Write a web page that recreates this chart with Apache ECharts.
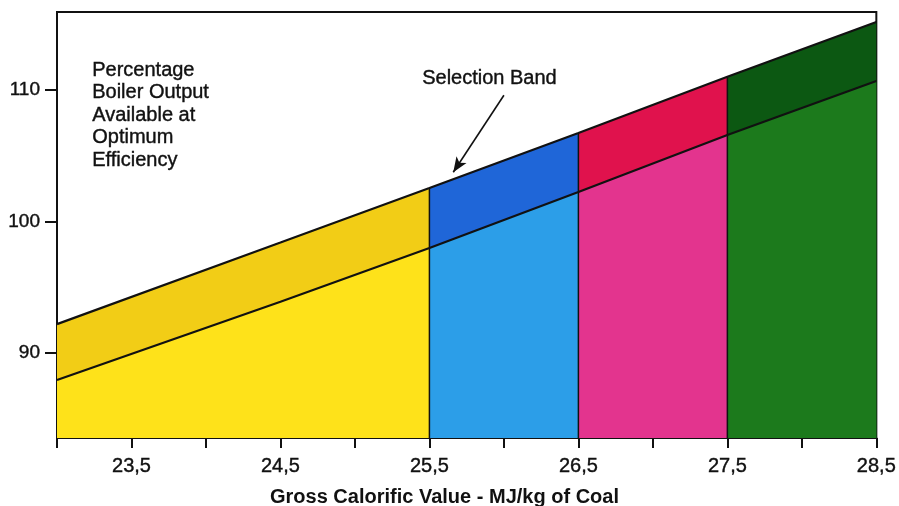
<!DOCTYPE html>
<html>
<head>
<meta charset="utf-8">
<script src="https://cdn.jsdelivr.net/npm/echarts@6.0.0/dist/echarts.min.js"></script>
<style>
  html, body { margin: 0; padding: 0; background: #fff; overflow: hidden; }
  #chart { width: 899px; height: 506px; }
</style>
</head>
<body>
<div id="chart"></div>
<script>
// gross calorific value (MJ/kg) where the band lines are read
var xValues = [23, 24.5, 25.5, 26.5, 27.5, 28.5];
// lower and upper edge of the selection band (% boiler output)
var lowerLine = [87.95, 93.9, 97.98, 102.24, 106.58, 110.68];
var upperLine = [92.2, 98.4, 102.55, 106.73, 111.0, 115.17];
// coal ranges coloured separately
var segments = [[23, 25.5], [25.5, 26.5], [26.5, 27.5], [27.5, 28.5]];
var upperColors = ['#f2cd16', '#1f66d8', '#e0124d', '#0c5812'];
var lowerColors = ['#fee21a', '#2c9ee8', '#e3348e', '#1c7a1c'];
var dividers = [25.5, 26.5, 27.5];
var xTickLabels = [23.5, 24.5, 25.5, 26.5, 27.5, 28.5];
var yTickLabels = [90, 100, 110];

var yMin = 83.54, yMax = 115.93;
var font = 'Liberation Sans, Arial, sans-serif';

function pairs(ys, from, to) {
    var out = [];
    for (var i = 0; i < xValues.length; i++) {
        if (xValues[i] >= from && xValues[i] <= to) out.push([xValues[i], ys[i]]);
    }
    return out;
}
function valueAt(ys, x) {
    return ys[xValues.indexOf(x)];
}

var series = [];
// darker band (between lines) first, then the lighter part below the lower line on top
segments.forEach(function (s, i) {
    series.push({
        type: 'line', data: pairs(upperLine, s[0], s[1]), symbol: 'none', silent: true,
        lineStyle: { width: 0 }, areaStyle: { color: upperColors[i], opacity: 1, origin: 'start' }, z: 1
    });
});
segments.forEach(function (s, i) {
    series.push({
        type: 'line', data: pairs(lowerLine, s[0], s[1]), symbol: 'none', silent: true,
        lineStyle: { width: 0 }, areaStyle: { color: lowerColors[i], opacity: 1, origin: 'start' }, z: 2
    });
});
dividers.forEach(function (x) {
    series.push({
        type: 'line', data: [[x, yMin], [x, valueAt(upperLine, x)]], symbol: 'none', silent: true,
        lineStyle: { color: '#111', width: 1.5 }, z: 3
    });
});
series.push({
    type: 'line', data: pairs(upperLine, 23, 28.5), symbol: 'none', silent: true,
    lineStyle: { color: '#111', width: 2.2 }, z: 4
});
series.push({
    type: 'line', data: pairs(lowerLine, 23, 28.5), symbol: 'none', silent: true,
    lineStyle: { color: '#111', width: 2.2 }, z: 4,
    markLine: {
        silent: true,
        symbol: ['none', 'arrow'],
        symbolSize: [9, 15],
        lineStyle: { color: '#111', width: 1.6, type: 'solid' },
        label: { show: false },
        data: [[{ coord: [26.0, 109.6] }, { coord: [25.66, 103.75] }]]
    }
});

var myChart = echarts.init(document.getElementById('chart'));
var option = {
    animation: false,
    backgroundColor: '#fff',
    grid: { left: 57, right: 15, top: 12, bottom: 68, show: true, borderColor: '#111', borderWidth: 2 },
    xAxis: {
        type: 'value', min: 23, max: 28.5, interval: 0.5,
        axisLine: { lineStyle: { color: '#111', width: 2 } },
        axisTick: { show: true, length: 10, lineStyle: { color: '#111', width: 2 } },
        axisLabel: {
            customValues: xTickLabels, margin: 18, color: '#111', fontSize: 20, fontFamily: font,
            textBorderColor: '#111', textBorderWidth: 0.4,
            formatter: function (v) { return v.toFixed(1).replace('.', ','); }
        },
        splitLine: { show: false }
    },
    yAxis: {
        type: 'value', min: yMin, max: yMax,
        axisLine: { show: true, lineStyle: { color: '#111', width: 2 } },
        axisTick: { show: true, customValues: yTickLabels, length: 12, lineStyle: { color: '#111', width: 2 } },
        axisLabel: {
            customValues: yTickLabels, margin: 17, color: '#111', fontSize: 19, fontFamily: font,
            textBorderColor: '#111', textBorderWidth: 0.4
        },
        splitLine: { show: false }
    },
    graphic: [
        {
            type: 'text', left: 92, top: 59, z: 10,
            style: {
                text: 'Percentage\nBoiler Output\nAvailable at\nOptimum\nEfficiency',
                fill: '#111', stroke: '#111', lineWidth: 0.4, font: '20px ' + font, lineHeight: 22.5
            }
        },
        {
            type: 'text', left: 422, top: 68, z: 10,
            style: { text: 'Selection Band', fill: '#111', stroke: '#111', lineWidth: 0.4, font: '20px ' + font }
        },
        {
            type: 'text', left: 270, top: 487, z: 10,
            style: { text: 'Gross Calorific Value - MJ/kg of Coal', fill: '#111', font: 'bold 20px ' + font }
        }
    ],
    series: series
};
myChart.setOption(option);
</script>
</body>
</html>
